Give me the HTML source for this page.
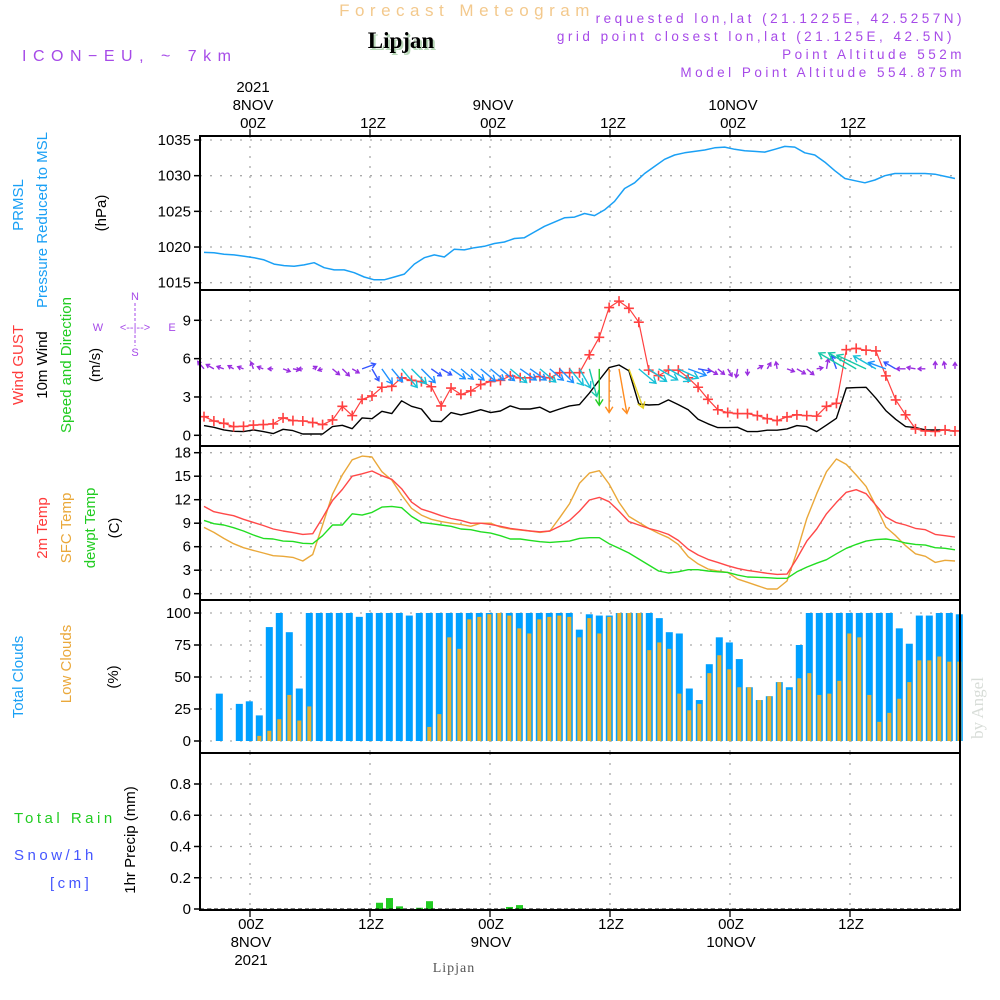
<!DOCTYPE html>
<html><head><meta charset="utf-8">
<style>
html,body{margin:0;padding:0;background:#fff;}
svg{display:block;font-family:"Liberation Sans",sans-serif;}
.t{font-size:15px;fill:#000;}
.pl{font-size:13.5px;fill:#a64ae8;letter-spacing:3.5px;}
</style></head>
<body>
<svg id="chart" width="1000" height="1000" viewBox="0 0 1000 1000" xmlns="http://www.w3.org/2000/svg">
<text x="467" y="16" text-anchor="middle" style="font-size:17px;fill:#f3c98d;letter-spacing:5.5px">Forecast Meteogram</text>
<text x="403" y="50" text-anchor="middle" style="font-family:'Liberation Serif',serif;font-size:23px;font-weight:bold;fill:#b8d8b8">Lipjan</text>
<text x="401" y="48" text-anchor="middle" style="font-family:'Liberation Serif',serif;font-size:23px;font-weight:bold;fill:#000">Lipjan</text>
<text x="22" y="61" style="font-size:16px;fill:#a64ae8;letter-spacing:6.5px">ICON−EU, ~ 7km</text>
<text class="pl" x="965" y="23" text-anchor="end">requested lon,lat (21.1225E, 42.5257N)</text>
<text class="pl" x="955" y="41" text-anchor="end">grid point closest lon,lat (21.125E, 42.5N)</text>
<text class="pl" x="965" y="59" text-anchor="end">Point Altitude 552m</text>
<text class="pl" x="965" y="77" text-anchor="end">Model Point Altitude 554.875m</text>
<g id="g"></g>
</svg>
<script>
const pressure=[1019.25,1019.2,1019.0,1018.9,1018.7,1018.5,1018.2,1017.6,1017.4,1017.3,1017.5,1017.8,1017.1,1016.8,1016.8,1016.4,1015.8,1015.4,1015.4,1015.8,1016.2,1017.6,1018.5,1018.9,1018.6,1019.7,1019.6,1019.9,1020.1,1020.5,1020.7,1021.2,1021.3,1022.1,1022.9,1023.5,1024.1,1024.2,1024.7,1024.4,1025.2,1026.4,1028.2,1029.0,1030.3,1031.3,1032.3,1032.9,1033.2,1033.4,1033.6,1033.9,1034.0,1033.7,1033.5,1033.4,1033.3,1033.7,1034.1,1034.0,1033.2,1032.9,1031.9,1030.7,1029.6,1029.3,1029.0,1029.4,1030.0,1030.3,1030.3,1030.3,1030.3,1030.2,1029.9,1029.6];
const wind10m=[0.76,0.63,0.42,0.31,0.29,0.42,0.29,0.13,0.47,0.37,0.1,0.1,0.1,0.68,0.78,0.52,1.36,1.3,1.88,1.7,2.7,2.27,2.06,1.1,1.07,1.78,1.6,1.78,2.0,1.78,1.9,2.3,2.06,2.06,2.2,1.8,2.06,2.3,2.4,3.3,4.33,5.3,5.5,5.05,2.45,2.37,2.4,2.77,2.4,2.0,1.25,0.9,0.6,0.6,0.63,0.29,0.29,0.4,0.4,0.5,0.76,0.68,0.29,0.8,1.33,3.7,3.73,3.76,2.9,1.93,1.25,0.68,0.6,0.42,0.42,0.42,0.31];
const gust=[1.46,1.12,0.94,0.68,0.7,0.8,0.84,0.89,1.36,1.15,1.12,1.0,0.84,1.2,2.27,1.54,2.82,3.08,3.76,3.83,4.5,4.3,4.2,3.8,2.3,3.7,3.2,3.47,3.97,4.2,4.3,4.65,4.5,4.5,4.6,4.5,4.9,4.9,4.9,6.3,7.67,10.0,10.5,9.94,8.85,5.1,4.67,5.1,5.1,4.5,3.76,2.82,2.0,1.78,1.7,1.7,1.54,1.3,1.15,1.44,1.6,1.54,1.5,2.27,2.5,6.7,6.8,6.66,6.6,4.65,2.77,1.6,0.5,0.34,0.3,0.42,0.34];
const windDir=[-130,-150,-160,-150,-160,-110,-160,180,20,10,175,-30,160,40,45,30,-20,60,55,50,50,45,45,35,30,35,40,40,40,40,40,40,35,35,40,40,45,50,60,75,90,90,80,70,40,35,30,30,25,20,10,30,40,60,100,90,-30,-60,-100,20,30,40,-10,-80,-110,-150,-150,-155,-150,-160,-150,180,-170,180,-90,-100,-90];
const temp2m=[11.15,10.47,10.2,9.96,9.5,9.1,8.7,8.26,8.0,7.8,7.57,7.66,9.7,11.9,13.3,15.0,15.3,15.66,15.06,14.6,13.4,11.7,10.8,10.4,9.96,9.6,9.36,9.0,9.0,8.85,8.6,8.34,8.17,8.0,7.9,8.0,8.6,9.36,10.55,11.96,12.3,11.74,10.55,9.2,8.77,8.34,8.0,7.57,6.8,5.7,4.94,4.38,4.0,3.57,3.23,2.98,2.8,2.6,2.47,2.5,4.5,6.72,8.26,10.2,11.66,12.94,13.28,12.77,11.3,9.8,9.1,8.77,8.34,8.17,7.57,7.4,7.23];
const tempSfc=[8.47,7.83,7.06,6.38,5.87,5.53,5.2,4.85,4.77,4.64,4.17,5.0,8.77,12.7,15.15,17.1,17.57,17.45,15.57,14.5,12.6,10.9,10.04,9.5,9.2,9.0,8.85,8.6,9.0,9.0,8.5,8.26,8.13,8.0,7.83,8.0,9.7,11.5,14.1,15.4,15.7,14.0,11.66,9.87,9.1,8.34,7.7,7.15,6.3,4.72,3.8,3.15,2.9,2.72,1.87,1.45,1.02,0.6,0.6,1.62,5.36,9.6,12.77,15.57,17.2,16.5,15.15,13.7,11.2,8.5,7.4,6.13,5.1,4.77,4.0,4.26,4.17];
const dewpt=[9.36,8.94,8.77,8.43,8.0,7.5,7.06,6.98,6.72,6.68,6.43,6.38,7.4,8.77,8.77,10.2,10.04,10.38,11.06,11.15,10.98,9.87,9.1,8.94,8.77,8.6,8.26,8.17,7.9,7.74,7.4,6.98,6.98,6.8,6.64,6.55,6.64,6.72,7.06,7.15,7.15,6.38,5.8,5.2,4.43,3.66,2.9,2.64,2.8,3.06,3.06,2.9,2.8,2.72,2.38,2.13,2.09,2.04,1.96,1.96,2.8,3.4,3.9,4.34,5.1,5.8,6.3,6.72,6.9,6.98,6.8,6.47,6.3,6.2,5.87,5.8,5.6];
const cloudHourStart=-4;
const totalClouds=[0,37,0,29,31,20,89,100,85,41,100,100,100,100,100,97,100,100,100,100,98,100,100,100,100,100,100,100,100,100,100,100,100,100,100,100,100,87,99,98,98,100,100,100,100,96,85,84,41,32,60,81,77,64,42,32,35,46,42,75,100,100,100,100,100,100,100,100,100,88,76,98,98,100,100,99];
const lowClouds=[0,0,0,0,0,4,8,17,36,16,27,0,0,0,0,0,0,0,0,0,0,0,11,21,81,72,95,97,99,100,98,88,84,95,97,98,97,81,96,84,97,100,100,100,71,77,72,37,24,29,53,67,56,42,42,32,35,46,40,49,53,36,37,47,84,81,36,15,22,33,46,63,63,66,62,62];
const precipHours=[13,14,15,17,18,26,27];
const precipValues=[0.04,0.07,0.017,0.008,0.05,0.013,0.025];
const pTicks=[1015,1020,1025,1030,1035];
const wTicks=[0,3,6,9];
const tTicks=[0,3,6,9,12,15,18];
const cTicks=[0,25,50,75,100];
const rTicks=[0,0.2,0.4,0.6,0.8];
const timeTicks=[0,12,24,36,48,60];
const topLabels=[["2021","8NOV","00Z"],["","","12Z"],["","9NOV","00Z"],["","","12Z"],["","10NOV","00Z"],["","","12Z"]];
const botLabels=[["00Z","8NOV","2021"],["12Z","",""],["00Z","9NOV",""],["12Z","",""],["00Z","10NOV",""],["12Z","",""]];

const NS="http://www.w3.org/2000/svg";
const G=document.getElementById('g');
const X0=200,X1=960;
function xh(h){return 250+10*h;}
function lin(d0,d1,r0,r1){return v=>r0+(v-d0)*(r1-r0)/(d1-d0);}
const yP=lin(1015,1035,282.7,140);
const yW=lin(0,9,435.3,320.3);
const yT=lin(0,18,593.7,452.7);
const yC=lin(0,100,741,613);
const yR=lin(0,0.8,909,784);
function mk(tag,at,parent){const e=document.createElementNS(NS,tag);for(const k in at)e.setAttribute(k,at[k]);(parent||G).appendChild(e);return e;}
function seriesX(n){const a=[];for(let i=0;i<n;i++)a.push(204+i*751/(n-1));return a;}
const panels=[[136,290,yP,pTicks,'pressure'],[290,446,yW,wTicks,'wind'],[446,600,yT,tTicks,'temperature'],[600,753,yC,cTicks,'clouds'],[753,910,yR,rTicks,'precip']];
panels.forEach(p=>{
  const [t,b,ys,ticks,nm]=p;
  ticks.forEach(v=>{
    const y=ys(v);
    let e=mk('line',{x1:X0,x2:X1,y1:y,y2:y,stroke:'#aaa','stroke-width':1.3,'stroke-dasharray':'2,8'});
    
    e=mk('line',{x1:X0-6,x2:X0,y1:y,y2:y,stroke:'#000','stroke-width':1.5});
    
    e=mk('text',{x:X0-9,y:y+5,'text-anchor':'end',class:'t'});e.textContent=String(v);
    
  });
  timeTicks.forEach(h=>{
    const e=mk('line',{x1:xh(h),x2:xh(h),y1:t,y2:b,stroke:'#aaa','stroke-width':1.3,'stroke-dasharray':'2,8'});
    
  });
});
function polyline(xs,vals,ys,col,w,nm){
  const pts=vals.map((v,i)=>xs[i].toFixed(1)+','+ys(v).toFixed(1)).join(' ');
  const e=mk('polyline',{points:pts,fill:'none',stroke:col,'stroke-width':w,'stroke-linejoin':'round'});
  return e;
}
polyline(seriesX(pressure.length),pressure,yP,'#1aa0f5',1.5,'pressure-line');
const wx=seriesX(wind10m.length);
polyline(wx,wind10m,yW,'#000',1.4,'wind-10m-line');
const gx=seriesX(gust.length);
polyline(gx,gust,yW,'#ff4040',1.2,'wind-gust-line');
gust.forEach((v,i)=>{
  const x=gx[i],y=yW(v);
  const e=mk('path',{d:`M${x-5},${y}H${x+5}M${x},${y-5}V${y+5}`,stroke:'#ff4040','stroke-width':1.6});
  
});
function wcol(s){return s<1?'#9a2ee0':s<1.6?'#3355ff':s<2.2?'#1e90ff':s<3?'#18c0d8':s<4?'#16c8a8':s<5?'#22cc22':s<5.3?'#e6d020':'#ff8c20';}
const ay=yW(5.2);
windDir.forEach((d,i)=>{
  const s=wind10m[i];const x=wx[i];
  const L=4+s*7.5;const a=d*Math.PI/180;
  const x2=x+L*Math.cos(a),y2=ay+L*Math.sin(a);
  const hl=Math.max(4,Math.min(7,L*0.35));
  const a1=a+Math.PI*0.82,a2=a-Math.PI*0.82;
  const e=mk('path',{d:`M${x},${ay}L${x2},${y2}M${x2+hl*Math.cos(a1)},${y2+hl*Math.sin(a1)}L${x2},${y2}L${x2+hl*Math.cos(a2)},${y2+hl*Math.sin(a2)}`,fill:'none',stroke:wcol(s),'stroke-width':1.4});
  
});
const tx=seriesX(temp2m.length);
polyline(tx,tempSfc,yT,'#eaa83a',1.4,'sfc-temp-line');
polyline(tx,temp2m,yT,'#ff4848',1.4,'2m-temp-line');
polyline(seriesX(dewpt.length),dewpt,yT,'#22dd22',1.4,'dewpoint-line');
totalClouds.forEach((v,i)=>{
  const x=xh(cloudHourStart+i)-0.7;
  let e=mk('rect',{x:x-3.5,y:yC(v),width:7,height:Math.max(0,yC(0)-yC(v)),fill:'#00a0ff'});
  
  const lv=lowClouds[i];
  e=mk('rect',{x:x-2,y:yC(lv),width:4,height:Math.max(0,yC(0)-yC(lv)),fill:'#e8b030'});
  
});
precipHours.forEach((h,i)=>{
  const v=precipValues[i];
  const e=mk('rect',{x:xh(h)-4,y:yR(v),width:7,height:yR(0)-yR(v),fill:'#22cc22'});
  
});
let zl=mk('line',{x1:X0,x2:X1,y1:909,y2:909,stroke:'#000','stroke-width':1,'stroke-dasharray':'4,3'});

panels.forEach(p=>{
  const e=mk('rect',{x:X0,y:p[0],width:X1-X0,height:p[1]-p[0],fill:'none',stroke:'#000','stroke-width':2});
  
});
timeTicks.forEach((h,i)=>{
  const x=xh(h);
  let e=mk('line',{x1:x,x2:x,y1:129,y2:136,stroke:'#000','stroke-width':1.3});
  
  e=mk('line',{x1:x,x2:x,y1:910,y2:917,stroke:'#000','stroke-width':1.3});
  
  topLabels[i].forEach((s,j)=>{if(!s)return;
    const t=mk('text',{x:x+3,y:92+j*18,'text-anchor':'middle',class:'t'});t.textContent=s;
    });
  botLabels[i].forEach((s,j)=>{if(!s)return;
    const t=mk('text',{x:x+1,y:929+j*18,'text-anchor':'middle',class:'t'});t.textContent=s;
    });
});
function vlab(x,y,s,col,nm,size,fam){
  const t=mk('text',{x:0,y:0,transform:`translate(${x},${y}) rotate(-90)`,'text-anchor':'middle',style:`font-size:${size||15}px;fill:${col}`+(fam?`;font-family:${fam}`:'')});
  t.textContent=s;
}
vlab(23,205,'PRMSL','#1aa0f5','pressure-label-1');
vlab(47,220,'Pressure Reduced to MSL','#1aa0f5','pressure-label-2');
vlab(106,213,'(hPa)','#000','pressure-unit');
vlab(23,365,'Wind GUST','#ff3b3b','gust-label');
vlab(47,365,'10m Wind','#000','wind-label');
vlab(71,365,'Speed and Direction','#22cc22','wind-dir-label');
vlab(100,365,'(m/s)','#000','wind-unit');
vlab(47,528,'2m Temp','#ff3b3b','temp-2m-label');
vlab(71,528,'SFC Temp','#eaa83a','temp-sfc-label');
vlab(95,528,'dewpt Temp','#22cc22','dewpt-label');
vlab(119,528,'(C)','#000','temp-unit');
vlab(23,677,'Total Clouds','#1aa0f5','total-clouds-label');
vlab(71,664,'Low Clouds','#eaa83a','low-clouds-label');
vlab(118,677,'(%)','#000','clouds-unit');
vlab(135,840,'1hr Precip (mm)','#000','precip-label');
vlab(983,708,'by Angel','#d8ddd8','watermark',17,"'Liberation Serif',serif");
[['Total  Rain',14,823,'#22cc22','rain-label'],['Snow/1h',14,860,'#4455ff','snow-label'],['[cm]',50,888,'#4455ff','snow-unit']].forEach(a=>{
  const t=mk('text',{x:a[1],y:a[2],style:`font-size:15px;fill:${a[3]};letter-spacing:3.5px`});t.textContent=a[0];
  
});
[['N',135,300],['S',135,356],['W',98,331],['E',172,331],['<--|-->',135,331]].forEach(a=>{
  const t=mk('text',{x:a[1],y:a[2],'text-anchor':'middle',style:'font-size:11px;fill:#a64ae8'});t.textContent=a[0];
  
});
const cl=mk('path',{d:'M135,303V322M135,335V346',stroke:'#a64ae8','stroke-width':1,'stroke-dasharray':'3,2'});

const ft=mk('text',{x:454,y:972,'text-anchor':'middle',style:"font-family:'Liberation Serif',serif;font-size:14px;fill:#555;letter-spacing:1px"});
ft.textContent='Lipjan';


</script>
</body></html>
